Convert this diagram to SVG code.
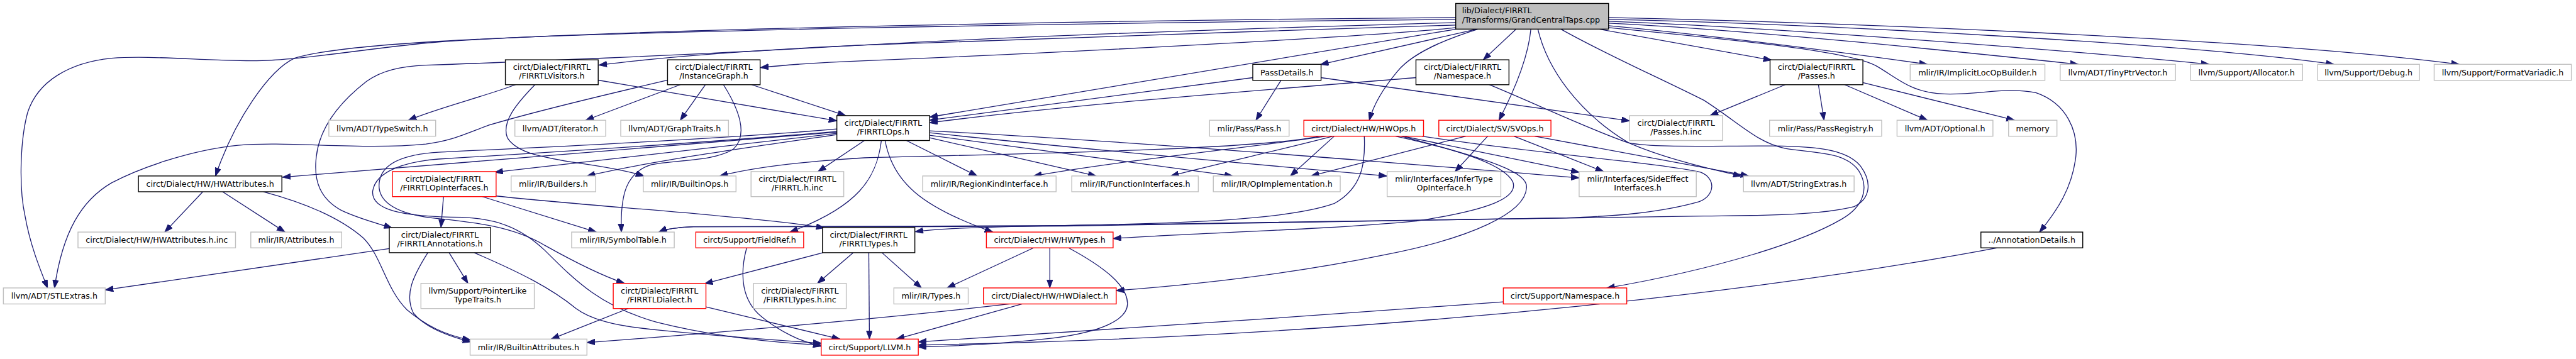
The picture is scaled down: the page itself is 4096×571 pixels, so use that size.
<svg xmlns="http://www.w3.org/2000/svg" width="4096" height="571" viewBox="0 0 4096 571">
<defs>
<marker id="a" markerWidth="14" markerHeight="10" refX="13" refY="4.7" orient="auto" markerUnits="userSpaceOnUse"><path d="M0,0 L13,4.7 L0,9.4 z" fill="#191970" stroke="#191970" stroke-width="1"/></marker>
<style>
.e path{fill:none;stroke:#191970;stroke-width:1.3;marker-end:url(#a)}
rect{fill:#fff;stroke-width:1.4}
.g rect{stroke:#bfbfbf}
.b rect{stroke:#000}
.r rect{stroke:#ff0000}
text{font-family:"DejaVu Sans","Liberation Sans",sans-serif;font-size:12.8px;fill:#000;text-anchor:middle}
</style>
</defs>
<rect x="0" y="0" width="4096" height="571" fill="#fff" stroke="none"/>
<g transform="scale(0.996)">
<g class="e" id="edges">
<path d="M2324,28 C1800,32 1000,46 700,67 C600,75 480,97 402,97 C320,97 240,88 178,93 C110,100 60,130 44,180 C32,225 30,300 40,345 C48,390 62,425 76,460"/>
<path d="M2324,31 C1800,36 1000,48 700,66 C600,72 510,80 470,93 C430,112 375,190 344,281"/>
<path d="M2324,36 C1900,48 1550,62 1360,73 C1100,88 800,100 680,104 C640,106 610,112 585,130 C540,165 510,205 505,250 C500,290 512,318 545,336 C575,350 600,356 626,364"/>
<path d="M2324,40 C2000,50 1600,64 1380,72 C1200,80 1050,92 956,104"/>
<path d="M2324,44 C2200,58 1700,84 1380,97 C1300,100 1250,104 1214,108"/>
<path d="M2328,46 L1484,187"/>
<path d="M2360,46 L2108,103"/>
<path d="M2421,46 L2368,95.5"/>
<path d="M2361,46 C2290,68 2250,90 2230,115 C2205,145 2192,170 2186,192"/>
<path d="M2444,46 C2440,90 2420,140 2393,192"/>
<path d="M2455,46 C2470,110 2520,180 2600,228 C2650,250 2720,268 2780,281"/>
<path d="M2491,46 C2560,85 2640,120 2720,160 C2775,195 2805,228 2850,237 C2900,245 2945,242 2967,272 C2985,300 2975,330 2940,350 C2880,385 2750,428 2565,460"/>
<path d="M2550,46 L2828,96"/>
<path d="M2568,41 C2750,58 2950,85 3077,102.7"/>
<path d="M2568,37 C2800,48 3150,85 3318,102.7"/>
<path d="M2568,34 C2800,42 3300,80 3527,102.7"/>
<path d="M2568,31 C2900,38 3500,70 3726,102.7"/>
<path d="M2568,28 C2900,35 3600,60 3926,102.7"/>
<path d="M2568,44 C2750,62 2950,80 2995,105 C3030,125 3050,148 3104,150 C3160,152 3200,138 3250,148 C3300,165 3318,210 3314,250 C3308,300 3285,335 3256,370.6"/>
<path d="M2377,135 C2450,165 2550,212 2600,228 C2640,236 2720,233 2833,233 C2900,234 2948,238 2970,265 C2990,292 2985,318 2960,330 C2900,345 2800,344 2720,345 C2400,350 1900,356 1700,360 C1600,362 1500,364 1461,370"/>
<path d="M2000,124 L1484,192"/>
<path d="M2045,128.3 L2005,192"/>
<path d="M2109,124 L2601.6,193"/>
<path d="M2260.5,124 C2000,145 1700,168 1484,196"/>
<path d="M2850,135.3 L2730,184.6"/>
<path d="M2903,135.3 L2912,192"/>
<path d="M2945,135.3 L3077,192"/>
<path d="M2974,132 L3216,192"/>
<path d="M955,128 L1336,193"/>
<path d="M823,135.3 C770,155 700,172 652,192"/>
<path d="M854,135.3 C825,165 800,195 810,220 C825,245 870,252 920,260 C970,267 1005,274 1028,281"/>
<path d="M1200,135.3 L1350,184.6"/>
<path d="M1086,135.3 L935,192"/>
<path d="M1126,135.3 L1086,192"/>
<path d="M1066,128 C950,155 830,185 780,200 C740,215 720,225 680,230 C580,240 460,225 380,232 C300,240 220,270 178,292 C130,320 100,370 87,460"/>
<path d="M1155,135.3 C1180,175 1195,215 1171,238 C1140,258 1080,255 1040,263 C1000,275 990,310 992,370.6"/>
<path d="M1380,224.4 L1306,274"/>
<path d="M1447,224.4 L1560,281"/>
<path d="M1484,220 L1750,281"/>
<path d="M1484,216 L1968,281"/>
<path d="M1484,212 C1700,235 1950,258 2214,281"/>
<path d="M1484,209 C1800,225 2200,258 2521,284"/>
<path d="M1407,224.4 C1400,285 1370,330 1261,370.6"/>
<path d="M1413,224.4 C1425,290 1470,330 1585,370.6"/>
<path d="M1336,213 L790,275"/>
<path d="M1336,211 L451,283"/>
<path d="M1336,215 C1200,235 1050,255 937,281"/>
<path d="M1336,206 C1100,226 800,238 700,243 C650,246 612,258 606,288 C600,318 625,340 690,348 C760,355 820,362 870,392 C920,420 960,440 997,452.5"/>
<path d="M1336,210 C1100,230 800,248 700,254 C650,258 600,272 595,305 C592,335 640,346 738,347 C790,349 830,362 870,400 C920,450 960,490 1050,515 C1150,540 1250,548 1311,551"/>
<path d="M708,314 L704,363.3"/>
<path d="M770,314 L952,370.6"/>
<path d="M792,313 C900,325 1050,335 1150,345 C1230,352 1280,358 1316,364"/>
<path d="M717,403.5 L747,452.5"/>
<path d="M683,403.5 C660,440 645,470 660,500 C680,525 720,538 752,546"/>
<path d="M757,403.5 C830,435 880,460 920,493 C950,515 1000,522 1050,527 C1150,537 1250,544 1311,548"/>
<path d="M621.5,397 L168,463"/>
<path d="M324,306 L263,370.6"/>
<path d="M355,306 L455,370.6"/>
<path d="M420,306 C480,322 540,345 580,380 C610,410 615,460 650,495 C680,520 710,535 751,543"/>
<path d="M1314,403.5 L1125,453"/>
<path d="M1362,403.5 L1305,452.5"/>
<path d="M1387,403.5 L1388,541.5"/>
<path d="M1408,403.5 L1471,459.8"/>
<path d="M1192,395.8 C1180,440 1185,480 1215,505 C1245,530 1280,546 1311,553"/>
<path d="M1127,490 L1341,541.5"/>
<path d="M1003,492.7 L880,541.5"/>
<path d="M1650,395.8 L1512,459.8"/>
<path d="M1676,395.8 L1676,459.8"/>
<path d="M1706,395.8 C1760,425 1800,455 1800,485 C1800,510 1760,530 1680,540 C1600,549 1520,553 1466,554"/>
<path d="M1632,485.4 L1431,541.5"/>
<path d="M1612,485.4 C1400,510 1100,535 937,547"/>
<path d="M2400,482 C2100,505 1700,530 1466,546"/>
<path d="M3189,395.8 C2900,450 2300,535 1466,551"/>
<path d="M2130,217.5 L2060,281"/>
<path d="M2117,217.5 C2000,235 1800,255 1650,281"/>
<path d="M2128,217.5 C2050,238 1950,260 1869,281"/>
<path d="M2107,217.5 C2000,240 1600,246 1380,252 C1280,258 1200,268 1149,281"/>
<path d="M2178,217.5 C2180,260 2175,300 2130,325 C2060,350 1900,357 1700,360 C1500,362 1200,361 1107,362 C1080,363 1062,366 1052,370.6"/>
<path d="M2228,217.5 C2330,240 2400,262 2415,290 C2425,315 2380,335 2261,353 C2100,368 1900,372 1777,381"/>
<path d="M2237,217.5 C2380,255 2440,275 2437,300 C2435,340 2350,380 2210,407 C2050,440 1900,455 1782,464"/>
<path d="M2240,217.5 L2521,275"/>
<path d="M2270,217.5 C2450,245 2650,260 2715,275 C2740,285 2738,312 2713,322 C2650,340 2580,345 2500,348 C2200,354 1900,358 1700,361 C1500,363 1150,362 1107,362 C1080,363 1062,366 1052,370.6"/>
<path d="M2340,217.5 L2093,281"/>
<path d="M2375,217.5 L2323,274"/>
<path d="M2417,217.5 L2560,274"/>
<path d="M2450,217.5 C2600,245 2700,265 2792,281"/>
</g>
<g id="n_top"><rect x="2324" y="5.5" width="244" height="41" fill="#bfbfbf" style="fill:#bfbfbf" stroke="#000"/><text x="2334" y="21.5" style="text-anchor:start">lib/Dialect/FIRRTL</text><text x="2334" y="36.5" style="text-anchor:start">/Transforms/GrandCentralTaps.cpp</text></g>
<g id="n_vis" class="b"><rect x="806.8" y="95.5" width="148.2" height="39.8"/><text x="880.9" y="111.5">circt/Dialect/FIRRTL</text><text x="880.9" y="126">/FIRRTLVisitors.h</text></g>
<g id="n_ig" class="b"><rect x="1065.7" y="95.5" width="147.8" height="39.8"/><text x="1139.6" y="111.5">circt/Dialect/FIRRTL</text><text x="1139.6" y="126">/InstanceGraph.h</text></g>
<g id="n_pd" class="b"><rect x="2000" y="102.7" width="109" height="25.6"/><text x="2054.5" y="120">PassDetails.h</text></g>
<g id="n_ns" class="b"><rect x="2260.5" y="95.5" width="148.5" height="39.8"/><text x="2334.75" y="111.5">circt/Dialect/FIRRTL</text><text x="2334.75" y="126">/Namespace.h</text></g>
<g id="n_passes" class="b"><rect x="2825.8" y="95.5" width="148.2" height="39.8"/><text x="2899.9" y="111.5">circt/Dialect/FIRRTL</text><text x="2899.9" y="126">/Passes.h</text></g>
<g id="n_iloc" class="g"><rect x="3049.5" y="102.7" width="215.1" height="25.6"/><text x="3157.05" y="120">mlir/IR/ImplicitLocOpBuilder.h</text></g>
<g id="n_tiny" class="g"><rect x="3289" y="102.7" width="184" height="25.6"/><text x="3381" y="120">llvm/ADT/TinyPtrVector.h</text></g>
<g id="n_alloc" class="g"><rect x="3497" y="102.7" width="179" height="25.6"/><text x="3586.5" y="120">llvm/Support/Allocator.h</text></g>
<g id="n_debug" class="g"><rect x="3700" y="102.7" width="162.6" height="25.6"/><text x="3781.3" y="120">llvm/Support/Debug.h</text></g>
<g id="n_fmt" class="g"><rect x="3886" y="102.7" width="219" height="25.6"/><text x="3995.5" y="120">llvm/Support/FormatVariadic.h</text></g>
<g id="n_ts" class="g"><rect x="525" y="192" width="170.5" height="25.5"/><text x="610.25" y="209.5">llvm/ADT/TypeSwitch.h</text></g>
<g id="n_iter" class="g"><rect x="822" y="192" width="145" height="25.5"/><text x="894.5" y="209.5">llvm/ADT/iterator.h</text></g>
<g id="n_gt" class="g"><rect x="991" y="192" width="172" height="25.5"/><text x="1077" y="209.5">llvm/ADT/GraphTraits.h</text></g>
<g id="n_ops" class="b"><rect x="1336" y="184.6" width="148" height="39.8"/><text x="1410" y="200.6">circt/Dialect/FIRRTL</text><text x="1410" y="215.1">/FIRRTLOps.h</text></g>
<g id="n_pass" class="g"><rect x="1931" y="192" width="127" height="25.5"/><text x="1994.5" y="209.5">mlir/Pass/Pass.h</text></g>
<g id="n_hwops" class="r"><rect x="2081.5" y="192" width="191.1" height="25.5"/><text x="2177.05" y="209.5">circt/Dialect/HW/HWOps.h</text></g>
<g id="n_svops" class="r"><rect x="2297" y="192" width="179" height="25.5"/><text x="2386.5" y="209.5">circt/Dialect/SV/SVOps.h</text></g>
<g id="n_pinc" class="g"><rect x="2601.6" y="184.6" width="148.4" height="39.8"/><text x="2675.8" y="200.6">circt/Dialect/FIRRTL</text><text x="2675.8" y="215.1">/Passes.h.inc</text></g>
<g id="n_preg" class="g"><rect x="2825" y="192" width="179" height="25.5"/><text x="2914.5" y="209.5">mlir/Pass/PassRegistry.h</text></g>
<g id="n_opt" class="g"><rect x="3028.5" y="192" width="153.1" height="25.5"/><text x="3105.05" y="209.5">llvm/ADT/Optional.h</text></g>
<g id="n_mem" class="g"><rect x="3206.6" y="192" width="77.2" height="25.5"/><text x="3245.2" y="209.5">memory</text></g>
<g id="n_hwattr" class="b"><rect x="221" y="281" width="229" height="25.2"/><text x="335.5" y="298.3">circt/Dialect/HW/HWAttributes.h</text></g>
<g id="n_opi" class="r"><rect x="626.5" y="274" width="165.5" height="40"/><text x="709.25" y="290">circt/Dialect/FIRRTL</text><text x="709.25" y="304.5">/FIRRTLOpInterfaces.h</text></g>
<g id="n_bld" class="g"><rect x="816" y="281" width="135" height="25.2"/><text x="883.5" y="298.3">mlir/IR/Builders.h</text></g>
<g id="n_bops" class="g"><rect x="1027" y="281" width="148" height="25.2"/><text x="1101" y="298.3">mlir/IR/BuiltinOps.h</text></g>
<g id="n_finc" class="g"><rect x="1199" y="274" width="148" height="40"/><text x="1273" y="290">circt/Dialect/FIRRTL</text><text x="1273" y="304.5">/FIRRTL.h.inc</text></g>
<g id="n_rki" class="g"><rect x="1473" y="281" width="213" height="25.2"/><text x="1579.5" y="298.3">mlir/IR/RegionKindInterface.h</text></g>
<g id="n_fi" class="g"><rect x="1711" y="281" width="202" height="25.2"/><text x="1812" y="298.3">mlir/IR/FunctionInterfaces.h</text></g>
<g id="n_opimpl" class="g"><rect x="1937" y="281" width="202.6" height="25.2"/><text x="2038.3" y="298.3">mlir/IR/OpImplementation.h</text></g>
<g id="n_infer" class="g"><rect x="2214.5" y="274" width="181.5" height="40"/><text x="2305.25" y="290">mlir/Interfaces/InferType</text><text x="2305.25" y="304.5">OpInterface.h</text></g>
<g id="n_se" class="g"><rect x="2521" y="274" width="187" height="40"/><text x="2614.5" y="290">mlir/Interfaces/SideEffect</text><text x="2614.5" y="304.5">Interfaces.h</text></g>
<g id="n_sx" class="g"><rect x="2783.4" y="281" width="176.6" height="25.2"/><text x="2871.7" y="298.3">llvm/ADT/StringExtras.h</text></g>
<g id="n_hwainc" class="g"><rect x="124.5" y="370.6" width="251.5" height="25.2"/><text x="250.25" y="388">circt/Dialect/HW/HWAttributes.h.inc</text></g>
<g id="n_attr" class="g"><rect x="400.4" y="370.6" width="145.1" height="25.2"/><text x="472.95" y="388">mlir/IR/Attributes.h</text></g>
<g id="n_anno" class="b"><rect x="621.5" y="363.3" width="161.7" height="40.2"/><text x="702.35" y="379.3">circt/Dialect/FIRRTL</text><text x="702.35" y="393.8">/FIRRTLAnnotations.h</text></g>
<g id="n_st" class="g"><rect x="912.6" y="370.6" width="163.8" height="25.2"/><text x="994.5" y="388">mlir/IR/SymbolTable.h</text></g>
<g id="n_fr" class="r"><rect x="1110.8" y="370.6" width="172.2" height="25.2"/><text x="1196.9" y="388">circt/Support/FieldRef.h</text></g>
<g id="n_ft" class="b"><rect x="1313" y="363.3" width="147.5" height="40.2"/><text x="1386.75" y="379.3">circt/Dialect/FIRRTL</text><text x="1386.75" y="393.8">/FIRRTLTypes.h</text></g>
<g id="n_hwt" class="r"><rect x="1574.7" y="370.6" width="202.3" height="25.2"/><text x="1675.85" y="388">circt/Dialect/HW/HWTypes.h</text></g>
<g id="n_ad" class="b"><rect x="3162.4" y="370.6" width="162.6" height="25.2"/><text x="3243.7" y="388">../AnnotationDetails.h</text></g>
<g id="n_stl" class="g"><rect x="5.4" y="459.8" width="162.6" height="25.6"/><text x="86.7" y="477.3">llvm/ADT/STLExtras.h</text></g>
<g id="n_plt" class="g"><rect x="672" y="452.5" width="181" height="40.2"/><text x="762.5" y="468.5">llvm/Support/PointerLike</text><text x="762.5" y="483">TypeTraits.h</text></g>
<g id="n_fd" class="r"><rect x="979" y="452.5" width="148" height="40.2"/><text x="1053" y="468.5">circt/Dialect/FIRRTL</text><text x="1053" y="483">/FIRRTLDialect.h</text></g>
<g id="n_ftinc" class="g"><rect x="1203" y="452.5" width="148" height="40.2"/><text x="1277" y="468.5">circt/Dialect/FIRRTL</text><text x="1277" y="483">/FIRRTLTypes.h.inc</text></g>
<g id="n_types" class="g"><rect x="1427" y="459.8" width="118.7" height="25.6"/><text x="1486.35" y="477.3">mlir/IR/Types.h</text></g>
<g id="n_hwd" class="r"><rect x="1570" y="459.8" width="212" height="25.6"/><text x="1676" y="477.3">circt/Dialect/HW/HWDialect.h</text></g>
<g id="n_sns" class="r"><rect x="2400" y="459.8" width="197" height="25.6"/><text x="2498.5" y="477.3">circt/Support/Namespace.h</text></g>
<g id="n_ba" class="g"><rect x="750.5" y="541.5" width="186.5" height="25.7"/><text x="843.75" y="559">mlir/IR/BuiltinAttributes.h</text></g>
<g id="n_llvm" class="r"><rect x="1311" y="541.5" width="155" height="25.7"/><text x="1388.5" y="559">circt/Support/LLVM.h</text></g>
</g>
</svg>
